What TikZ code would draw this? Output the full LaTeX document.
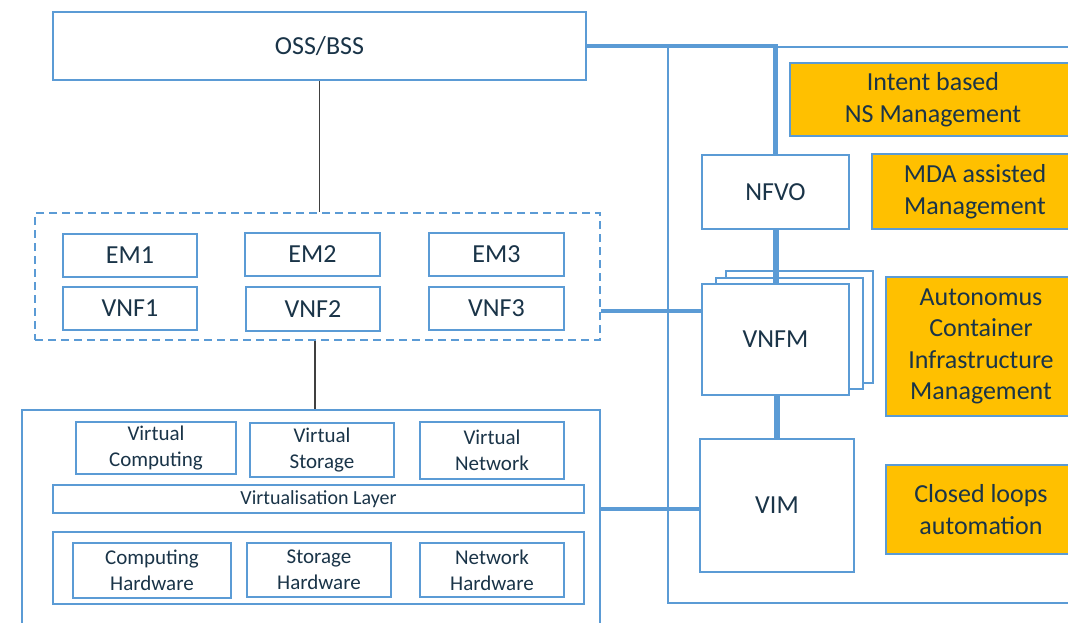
\documentclass[tikz,border=0pt]{standalone}
\usepackage{fontspec}
\setmainfont{Carlito}
\usetikzlibrary{calc}
\definecolor{boxblue}{HTML}{5B9BD5}
\definecolor{txtnavy}{RGB}{26,52,72}
\definecolor{gold}{HTML}{FFC000}
\definecolor{darkline}{RGB}{64,64,64}
\begin{document}
\begin{tikzpicture}[x=1pt,y=-1pt,
  box/.style={draw=boxblue,line width=2.5pt,fill=white,inner sep=0pt,align=center,text=txtnavy,
    font=\fontsize{26}{31.5}\selectfont},
  smallbox/.style={box,font=\fontsize{21}{25.6}\selectfont},
  goldbox/.style={box,fill=gold},
  dashbox/.style={draw=boxblue,line width=2.5pt,dash pattern=on 8pt off 5pt,inner sep=0pt},
  thick link/.style={draw=boxblue,line width=4.5pt},
  vlink/.style={draw=boxblue,line width=6pt},
  thin link/.style={draw=darkline,line width=1.5pt},
  frame/.style={draw=boxblue,line width=2.2pt}
]
\useasboundingbox (0,0) rectangle (1068,623);
\clip (0,0) rectangle (1068,623);
\fill[white] (0,0) rectangle (1068,623);

% MANO frame
\draw[frame] (1080,47) -- (668,47) -- (668,603) -- (1080,603);

% OSS/BSS
\node[box,minimum width=533pt,minimum height=68pt] (oss) at (319.5,46) {OSS/BSS};

% VNF area
\node[dashbox,minimum width=565pt,minimum height=127pt] (dash) at (317.5,276.5) {};
\node[box,minimum width=134pt,minimum height=43pt] (em1) at (130,255.5) {EM1};
\node[box,minimum width=135pt,minimum height=43pt] (em2) at (312.5,254.5) {EM2};
\node[box,minimum width=135pt,minimum height=43pt] (em3) at (496.5,254.5) {EM3};
\node[box,minimum width=134pt,minimum height=43pt] (vnf1) at (130,308.5) {VNF1};
\node[box,minimum width=134pt,minimum height=44pt] (vnf2) at (313,309) {VNF2};
\node[box,minimum width=135pt,minimum height=43pt] (vnf3) at (496.5,308.5) {VNF3};

% NFVI
\node[box,minimum width=578pt,minimum height=250pt] (nfvi) at (311,535) {};
\node[smallbox,minimum width=160pt,minimum height=52pt] (vc) at (156,448) {Virtual\\Computing};
\node[smallbox,minimum width=144pt,minimum height=54pt] (vs) at (322,450) {Virtual\\Storage};
\node[smallbox,minimum width=144pt,minimum height=57pt] (vn) at (492,450.5) {Virtual\\Network};
\node[smallbox,font=\fontsize{20}{24}\selectfont,minimum width=531pt,minimum height=28pt] (vl) at (318.5,499) {Virtualisation Layer};
\node[box,minimum width=531pt,minimum height=72pt] (hw) at (318.5,568) {};
\node[smallbox,minimum width=158pt,minimum height=55pt] (ch) at (152,570.5) {Computing\\Hardware};
\node[smallbox,minimum width=144pt,minimum height=54pt] (sh) at (319,570) {Storage\\Hardware};
\node[smallbox,minimum width=144pt,minimum height=54pt] (nh) at (492,570) {Network\\Hardware};

% MANO
\node[box,minimum width=147pt,minimum height=74pt] (nfvo) at (775.5,192) {NFVO};
\node[box,minimum width=147pt,minimum height=112pt] (vnfmc) at (799.5,327) {};
\node[box,minimum width=147pt,minimum height=111pt] (vnfmb) at (789.5,333.5) {};
\node[box,minimum width=147pt,minimum height=111pt] (vnfm) at (775.5,339.5) {VNFM};
\node[box,minimum width=154pt,minimum height=133pt] (vim) at (777,505.5) {VIM};

% Gold boxes
\node[goldbox,minimum width=286pt,minimum height=73pt] (g1) at (933,99.5) {Intent based\\NS Management};
\node[goldbox,minimum width=206pt,minimum height=75pt] (g2) at (975,191.5) {MDA assisted\\Management};
\node[goldbox,minimum width=190pt,minimum height=139pt] (g3) at (981,346.5) {Autonomus\\Container\\Infrastructure\\Management};
\node[goldbox,minimum width=190pt,minimum height=89pt] (g4) at (981,509.5) {Closed loops\\automation};

% connectors
\draw[thin link] (oss.south) -- (oss.south |- dash.north);
\draw[thin link] ([xshift=-2.5pt]dash.south) -- ([xshift=-2.5pt]dash.south |- nfvi.north);
\draw[thick link] (oss.east) -| (nfvo.north);
\draw[vlink] (nfvo.south) -- (vnfm.north);
\draw[vlink] ([xshift=1.5pt]vnfm.south) -- ([xshift=1.5pt]vnfm.south |- vim.north);
\draw[thick link] ([yshift=-28pt]vnfm.north west) -- ([yshift=-28pt]vnfm.north west -| dash.east);
\draw[thick link] ([yshift=-3.5pt]vim.west) -- ([yshift=-3.5pt]vim.west -| nfvi.east);
\end{tikzpicture}
\end{document}
